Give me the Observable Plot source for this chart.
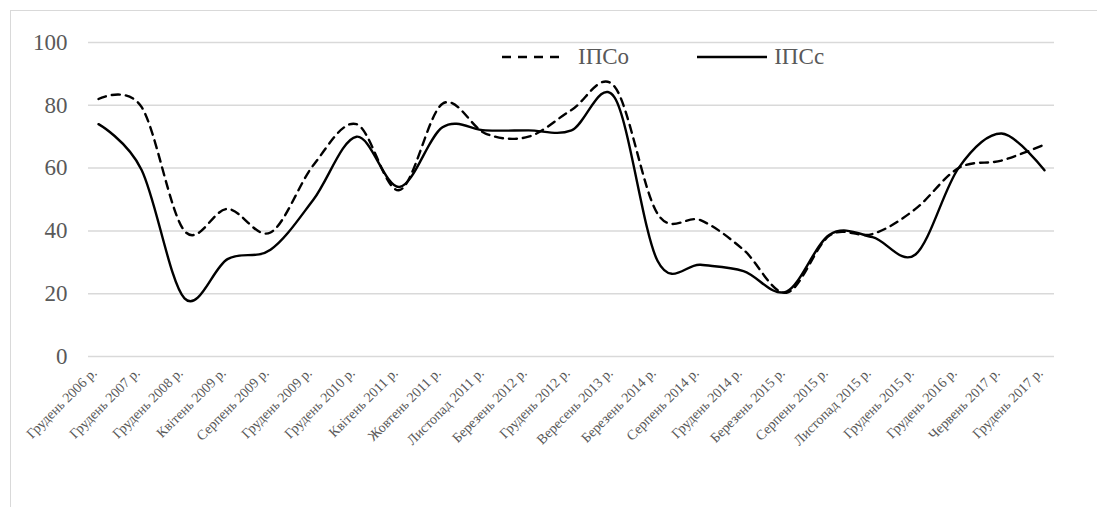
<!DOCTYPE html>
<html>
<head>
<meta charset="utf-8">
<script src="https://cdn.jsdelivr.net/npm/d3@7"></script>
<script src="https://cdn.jsdelivr.net/npm/@observablehq/plot@0.6"></script>
<style>
  html, body { margin: 0; padding: 0; background: #fff; }
  #wrap { position: relative; width: 1097px; height: 507px; overflow: hidden; font-family: "Liberation Serif", "Times New Roman", Times, "DejaVu Serif", serif; }
  #frame { position: absolute; left: 10px; top: 10px; width: 1200px; height: 600px; border-left: 1.5px solid #d9d9d9; border-top: 1.5px solid #d9d9d9; }
  #chart { position: absolute; left: 0; top: 0; }
  #legend { position: absolute; top: 44px; left: 502px; font-size: 23px; color: #595959; display: flex; align-items: center; font-family: "Liberation Serif", "Times New Roman", Times, serif; }
  #legend .item { display: flex; align-items: center; }
</style>
</head>
<body>
<div id="wrap">
  <div id="frame"></div>
  <div id="chart"></div>
  <div id="legend"></div>
</div>
<script>
const categories = [
  "Грудень 2006 р.", "Грудень 2007 р.", "Грудень 2008 р.", "Квітень 2009 р.", "Серпень 2009 р.",
  "Грудень 2009 р.", "Грудень 2010 р.", "Квітень 2011 р.", "Жовтень 2011 р.", "Листопад 2011 р.",
  "Березень 2012 р.", "Грудень 2012 р.", "Вересень 2013 р.", "Березень 2014 р.", "Серпень 2014 р.",
  "Грудень 2014 р.", "Березень 2015 р.", "Серпень 2015 р.", "Листопад 2015 р.", "Грудень 2015 р.",
  "Грудень 2016 р.", "Червень 2017 р.", "Грудень 2017 р."
];
const ipso = [82, 79.5, 40, 47, 39.5, 61, 74, 53, 80.5, 71, 70, 78.5, 86, 45.5, 43.4, 34, 20.3, 38.5, 39, 47, 60, 62.4, 67.5];
const ipsc = [74, 59.5, 18.5, 31, 34, 50, 70, 54, 73, 72, 72, 72, 82.5, 30.5, 29.2, 27.2, 20.7, 38.8, 38, 32.5, 60, 71, 59.3];
const yTicks = [0, 20, 40, 60, 80, 100];
const seriesNames = ["ІПСо", "ІПСс"];

const rowsO = categories.map((c, i) => ({cat: c, v: ipso[i]}));
const rowsC = categories.map((c, i) => ({cat: c, v: ipsc[i]}));

const chart = Plot.plot({
  width: 1097,
  height: 507,
  marginLeft: 88,
  marginRight: 43,
  marginTop: 42,
  marginBottom: 151,
  style: {background: "transparent", fontFamily: "'Liberation Serif', 'Times New Roman', Times, serif"},
  x: {type: "point", domain: categories, padding: 0},
  y: {domain: [0, 100]},
  marks: [
    Plot.gridY(yTicks, {stroke: "#d9d9d9", strokeOpacity: 1, strokeWidth: 1.5}),
    Plot.axisY(yTicks, {tickSize: 0, tickPadding: 21, fontSize: 23, fill: "#595959", label: null}),
    Plot.axisX({tickSize: 0, tickPadding: 14, tickRotate: -45, fontSize: 14, fill: "#595959", label: null, dx: -4}),
    Plot.line(rowsO, {x: "cat", y: "v", stroke: "#000", strokeWidth: 2.4, strokeDasharray: "8,6", curve: "cardinal", tension: 0}),
    Plot.line(rowsC, {x: "cat", y: "v", stroke: "#000", strokeWidth: 2.4, curve: "cardinal", tension: 0})
  ]
});
document.getElementById("chart").appendChild(chart);

const legend = document.getElementById("legend");
legend.innerHTML = `
  <div class="item"><svg width="60" height="10" style="margin-right:16px"><line x1="0" y1="5" x2="60" y2="5" stroke="#000" stroke-width="2.4" stroke-dasharray="9,7"/></svg><span>${seriesNames[0]}</span></div>
  <div class="item" style="margin-left:68px"><svg width="70" height="10" style="margin-right:7px"><line x1="0" y1="5" x2="70" y2="5" stroke="#000" stroke-width="2.4"/></svg><span>${seriesNames[1]}</span></div>
`;
</script>
</body>
</html>
